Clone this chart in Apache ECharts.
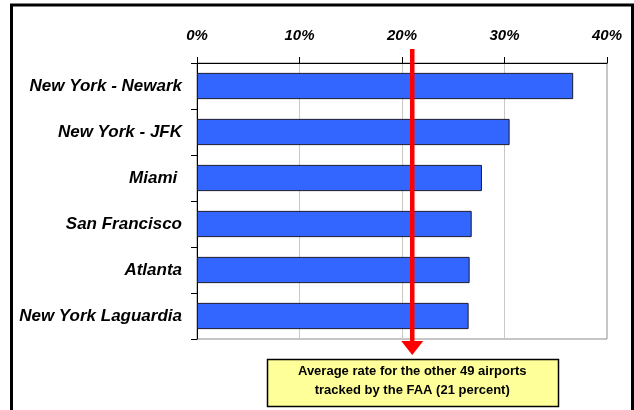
<!DOCTYPE html>
<html>
<head>
<meta charset="utf-8">
<script src="https://cdn.jsdelivr.net/npm/echarts@6/dist/echarts.min.js"></script>
<style>
  html, body { margin: 0; padding: 0; background: #fff; }
  #chart { width: 634px; height: 410px; }
</style>
</head>
<body>
<div id="chart"></div>
<script>
// Airports, top to bottom
const airports = [
  'New York - Newark',
  'New York - JFK',
  'Miami ',
  'San Francisco',
  'Atlanta',
  'New York Laguardia'
];
// Rate for each airport, percent
const rates = [36.7, 30.5, 27.8, 26.8, 26.6, 26.5];
// Average of the remaining tracked airports, percent
const averageRate = 21;
const averageNote = ['Average rate for the other 49 airports', 'tracked by the FAA (21 percent)'];
const axisMax = 40;
const axisStep = 10;

const FONT = '"Liberation Sans", Arial, Helvetica, sans-serif';
const chart = echarts.init(document.getElementById('chart'), null, { renderer: 'canvas' });

chart.setOption({
  animation: false,
  backgroundColor: '#ffffff',
  grid: {
    left: 197, right: 27, top: 63, bottom: 71,
    show: true, borderColor: '#8c8c8c', borderWidth: 1, backgroundColor: 'transparent'
  },
  xAxis: {
    type: 'value',
    position: 'top',
    min: 0, max: axisMax, interval: axisStep,
    axisLine: { show: true, lineStyle: { color: '#000', width: 1 } },
    axisTick: { show: true, inside: false, length: 6, lineStyle: { color: '#000' } },
    axisLabel: {
      margin: 20,
      formatter: '{value}%',
      fontFamily: FONT, fontSize: 15, fontWeight: 'bold', fontStyle: 'italic', color: '#000'
    },
    splitLine: { show: true, lineStyle: { color: '#c8c8c8', width: 1 } }
  },
  yAxis: {
    type: 'category',
    data: airports,
    inverse: true,
    axisLine: { show: true, lineStyle: { color: '#000', width: 1 } },
    axisTick: { show: true, length: 6, lineStyle: { color: '#000' } },
    axisLabel: {
      margin: 15,
      fontFamily: FONT, fontSize: 17, fontWeight: 'bold', fontStyle: 'italic', color: '#000'
    },
    splitLine: { show: false }
  },
  series: [{
    type: 'bar',
    data: rates,
    barCategoryGap: '43%',
    itemStyle: { color: '#3366ff', borderColor: '#1a1a2e', borderWidth: 1 }
  }]
});

// Average marker: red arrow at the average rate, pointing to the note box
const px = chart.convertToPixel({ xAxisIndex: 0 }, averageRate);
const boxW = 291, boxH = 47, boxTop = 359;

chart.setOption({
  graphic: [
    {
      type: 'rect', silent: true, z: 1,
      shape: { x: 11.5, y: 5, width: 621, height: 430 },
      style: { fill: 'none', stroke: '#000', lineWidth: 3 }
    },
    {
      type: 'line', silent: true, z: 100,
      shape: { x1: px, y1: 49, x2: px, y2: 343 },
      style: { stroke: '#ff0000', lineWidth: 4.5 }
    },
    {
      type: 'polygon', silent: true, z: 100,
      shape: { points: [[px - 11, 341], [px + 11, 341], [px, 355]] },
      style: { fill: '#ff0000' }
    },
    {
      type: 'rect', silent: true, z: 100,
      shape: { x: Math.round(px - boxW / 2) + 0.5, y: boxTop + 0.5, width: boxW, height: boxH },
      style: { fill: '#ffff99', stroke: '#000', lineWidth: 1.5 }
    },
    {
      type: 'text', silent: true, z: 101,
      x: px, y: boxTop + 12,
      style: {
        text: averageNote[0],
        fontFamily: FONT, fontSize: 13, fontWeight: 'bold', fill: '#000',
        align: 'center', verticalAlign: 'middle'
      }
    },
    {
      type: 'text', silent: true, z: 101,
      x: px, y: boxTop + 31,
      style: {
        text: averageNote[1],
        fontFamily: FONT, fontSize: 13, fontWeight: 'bold', fill: '#000',
        align: 'center', verticalAlign: 'middle'
      }
    }
  ]
});
</script>
</body>
</html>
